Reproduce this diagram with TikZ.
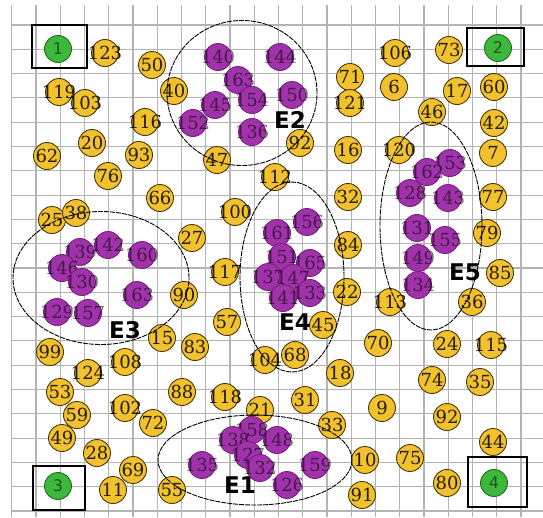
\documentclass[tikz,border=0pt]{standalone}
\usepackage{fontspec}
\setmainfont{DejaVu Serif}
\newfontfamily\lblsans{DejaVu Sans}
\usetikzlibrary{shapes.geometric}
\definecolor{ylw}{HTML}{F2C12E}
\definecolor{ylwb}{HTML}{4A3808}
\definecolor{pur}{HTML}{A033AA}
\definecolor{purb}{HTML}{7A2080}
\definecolor{grn}{HTML}{3DB83D}
\definecolor{grnb}{HTML}{1F6F1F}
\definecolor{grnt}{HTML}{1A5A1A}
\definecolor{gridc}{HTML}{B4B4B4}
\newcommand\lb[1]{\makebox[0pt]{#1}}
\tikzset{
 gridl/.style={draw=gridc, line width=1.1pt},
 basen/.style={circle, minimum size=27pt, inner sep=0pt, line width=0.9pt, font=\fontsize{18}{18}\selectfont},
 ynode/.style={basen, fill=ylw, draw=ylwb, text=black, text opacity=0.85},
 pnode/.style={basen, fill=pur, draw=purb, text=black, text opacity=0.55},
 gnode/.style={basen, fill=grn, draw=grnb, text=grnt, font=\lblsans\fontsize{16}{16}\selectfont},
 gbox/.style={draw=black, line width=1.1pt},
 ell/.style={ellipse, draw=black, line width=0.9pt, dash pattern=on 5pt off 1pt, inner sep=0pt},
 elab/.style={font=\lblsans\bfseries\fontsize{23}{23}\selectfont, text=black, inner sep=0pt}
}
\begin{document}
\begin{tikzpicture}[x=1pt,y=-1pt]
\useasboundingbox (0,0) rectangle (543,517);
\fill[white] (0,0) rectangle (543,517);
% grid
\foreach \i in {0,...,21} \draw[gridl] ({11.7+24.25*\i},5) -- ({11.7+24.25*\i},517);
\foreach \j in {0,...,20} \draw[gridl] (12,{25+24.3*\j}) -- (543,{25+24.3*\j});
% corner boxes
\node[gbox, minimum width=55pt, minimum height=43pt, inner sep=0pt] (B1) at (59.5,46.5) {};
\node[gbox, minimum width=57pt, minimum height=38pt, inner sep=0pt] (B2) at (495.5,47) {};
\node[gbox, minimum width=52pt, minimum height=44pt, inner sep=0pt] (B3) at (59,488) {};
\node[gbox, minimum width=59pt, minimum height=50pt, inner sep=0pt] (B4) at (497.5,482) {};
\node[gnode] (g1) at (58,49) {1};
\node[gnode] (g2) at (498,48) {2};
\node[gnode] (g3) at (58,486) {3};
\node[gnode] (g4) at (494,483) {4};
% yellow nodes
\foreach \n/\x/\y in {123/105/53, 50/152/65, 40/174/91, 119/59/92, 103/85/103, 116/145/122, 20/92/143, 62/47/156, 93/139/155, 76/108/176,
 71/350/77, 121/350/103, 92/300/143, 16/348/150, 47/217/160, 112/275/177, 106/395/53, 73/449/50, 6/394/87, 17/457/91, 60/494/87,
 46/432/112, 42/494/123, 120/399/150, 7/493/153, 25/52/220, 38/76/213, 66/160/198, 27/192/238, 100/235/212, 32/348/197, 84/348/245,
 22/347/292, 117/225/272, 57/227/322, 45/323/325, 90/184/295, 15/162/338, 83/195/347, 77/493/197, 79/487/233, 85/500/273, 113/390/302,
 36/472/302, 70/378/343, 24/447/344, 115/491/345, 99/50/352, 108/125/362, 124/88/373, 53/60/392, 88/182/392, 59/77/415, 102/125/408,
 72/153/423, 49/62/438, 28/97/453, 69/133/470, 11/113/490, 55/172/490, 104/265/360, 68/295/355, 18/340/373, 118/225/397, 31/305/400,
 21/260/410, 33/332/425, 10/365/460, 91/362/495, 74/432/380, 35/480/382, 9/382/408, 44/493/442, 75/410/458, 80/447/483}
 {\node[ynode] (y\n) at (\x,\y) {\lb{\n}};}
\node[ynode] (y92b) at (447,417) {\lb{92}};
% purple nodes
\foreach \k/\n/\x/\y in {a/140/218/57, b/144/280/57, c/163/238/80, d/150/292/95, e/154/252/100, f/145/215/105, g/152/193/123, h/136/252/132}
 {\node[pnode] (p2\k) at (\x,\y) {\lb{\n}};}
\foreach \k/\n/\x/\y in {a/139/80/252, b/142/108/245, c/160/142/255, d/146/62/268, e/130/82/282, f/163/137/295, g/129/57/312, h/157/88/313}
 {\node[pnode] (p3\k) at (\x,\y) {\lb{\n}};}
\foreach \k/\n/\x/\y in {a/156/307/222, b/161/277/233, c/151/282/257, d/165/310/263, e/137/268/277, f/147/293/278, g/133/310/293, h/141/283/298}
 {\node[pnode] (p4\k) at (\x,\y) {\lb{\n}};}
\foreach \k/\n/\x/\y in {a/153/450/163, b/162/427/172, c/128/410/193, d/143/448/198, e/131/417/228, f/155/445/240, g/149/418/258, h/134/418/285}
 {\node[pnode] (p5\k) at (\x,\y) {\lb{\n}};}
\foreach \k/\n/\x/\y in {a/135/202/465, b/158/252/430, c/138/233/440, d/148/277/440, e/127/248/455, f/132/260/468, g/159/315/465, h/126/287/485}
 {\node[pnode] (p1\k) at (\x,\y) {\lb{\n}};}
% ellipses
\node[ell, minimum width=150pt, minimum height=145pt] (E2) at (242,93) {};
\node[ell, minimum width=176pt, minimum height=133pt] (E3) at (101,278) {};
\node[ell, minimum width=104pt, minimum height=190pt] (E4) at (292,277) {};
\node[ell, minimum width=102pt, minimum height=208pt] (E5) at (431,226) {};
\node[ell, minimum width=194pt, minimum height=90pt] (E1) at (255,460) {};
% labels
\node[elab] (L1) at (240,485) {E1};
\node[elab] (L2) at (290,120) {E2};
\node[elab] (L3) at (125,330) {E3};
\node[elab] (L4) at (295,322) {E4};
\node[elab] (L5) at (465,272) {E5};
\end{tikzpicture}
\end{document}
